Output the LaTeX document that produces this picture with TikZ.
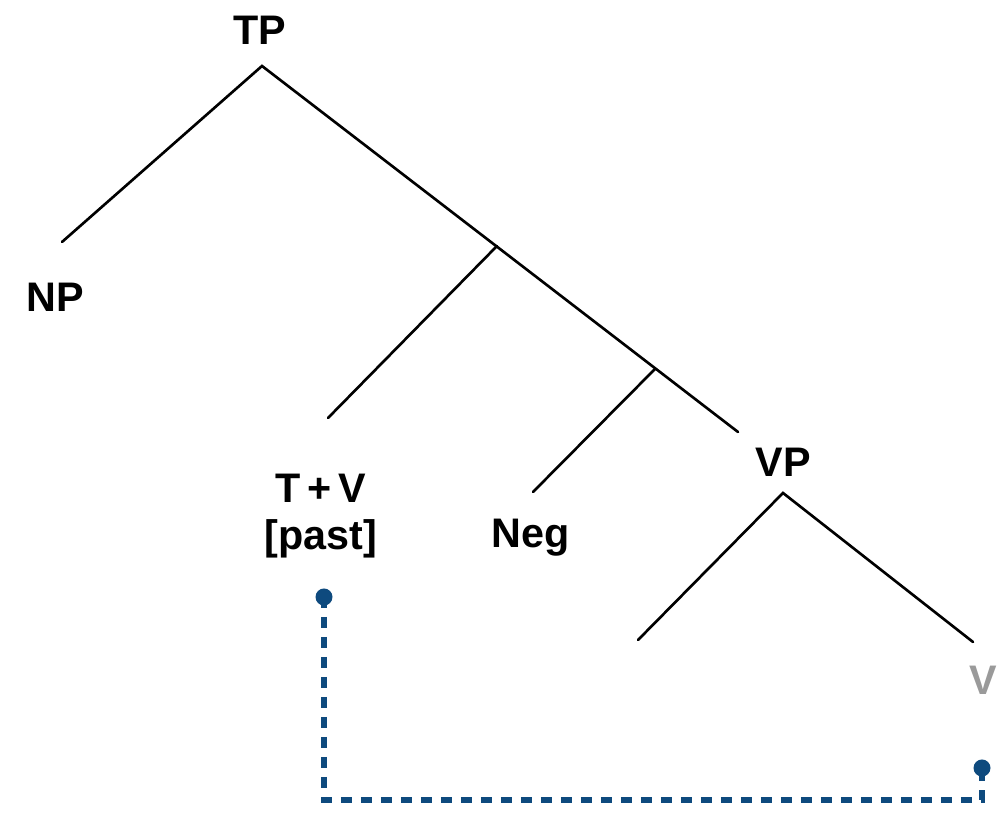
\documentclass[tikz,border=0pt]{standalone}
\usepackage{fontspec}
\setmainfont{Liberation Sans}
\definecolor{trace}{HTML}{0E4A7E}
\definecolor{copyv}{HTML}{9A9A9A}
\tikzset{
	cat/.style={inner sep=0pt,font=\fontsize{23.5}{26.5}\selectfont\bfseries,align=center},
	branch/.style={line width=1.5pt,line cap=round},
	movetrace/.style={trace,line width=3pt,dash pattern=on 0.22cm off 0.18cm},
}
\begin{document}
\begin{tikzpicture}[x=1cm,y=1cm]
		\useasboundingbox (0,0) rectangle (19.96,16.52);
		% branch points
		\coordinate (TPtop) at (5.24,15.2);
		\coordinate (NPend) at (1.24,11.68);
		\coordinate (Tbar) at (9.94,11.6);
		\coordinate (Negbar) at (13.1,9.14);
		\coordinate (VPend) at (14.76,7.88);
		\coordinate (TVend) at (6.56,8.16);
		\coordinate (Negend) at (10.66,6.68);
		\coordinate (VPtop) at (15.66,6.66);
		\coordinate (VPleft) at (12.76,3.72);
		\coordinate (Vend) at (19.46,3.68);
		% labels
		\node[cat] (TP) at (5.2,15.92) {TP};
		\node[cat] (NP) at (1.1,10.58) {NP};
		\node[cat] (TV) at (6.42,6.2) {T\,+\,V\\{}[past]};
		\node[cat] (Neg) at (10.62,5.76) {Neg};
		\node[cat] (VP) at (15.66,7.28) {VP};
		\node[cat,text=copyv] (V) at (19.66,2.92) {V};
		% tree
		\draw[branch] (NPend) -- (TPtop) -- (VPend);
		\draw[branch] (Tbar) -- (TVend);
		\draw[branch] (Negbar) -- (Negend);
		\draw[branch] (VPleft) -- (VPtop) -- (Vend);
		% movement of V to T
		\coordinate (tvdot) at (6.48,4.58);
		\coordinate (vdot) at (19.64,1.16);
		\coordinate (cornerL) at (6.48,0.52);
		\coordinate (cornerR) at (19.64,0.52);
		\draw[movetrace] (tvdot) -- (cornerL) -- (cornerR) -- (vdot);
		\fill[trace] (tvdot) circle (0.17);
		\fill[trace] (vdot) circle (0.17);
	\end{tikzpicture}
\end{document}
